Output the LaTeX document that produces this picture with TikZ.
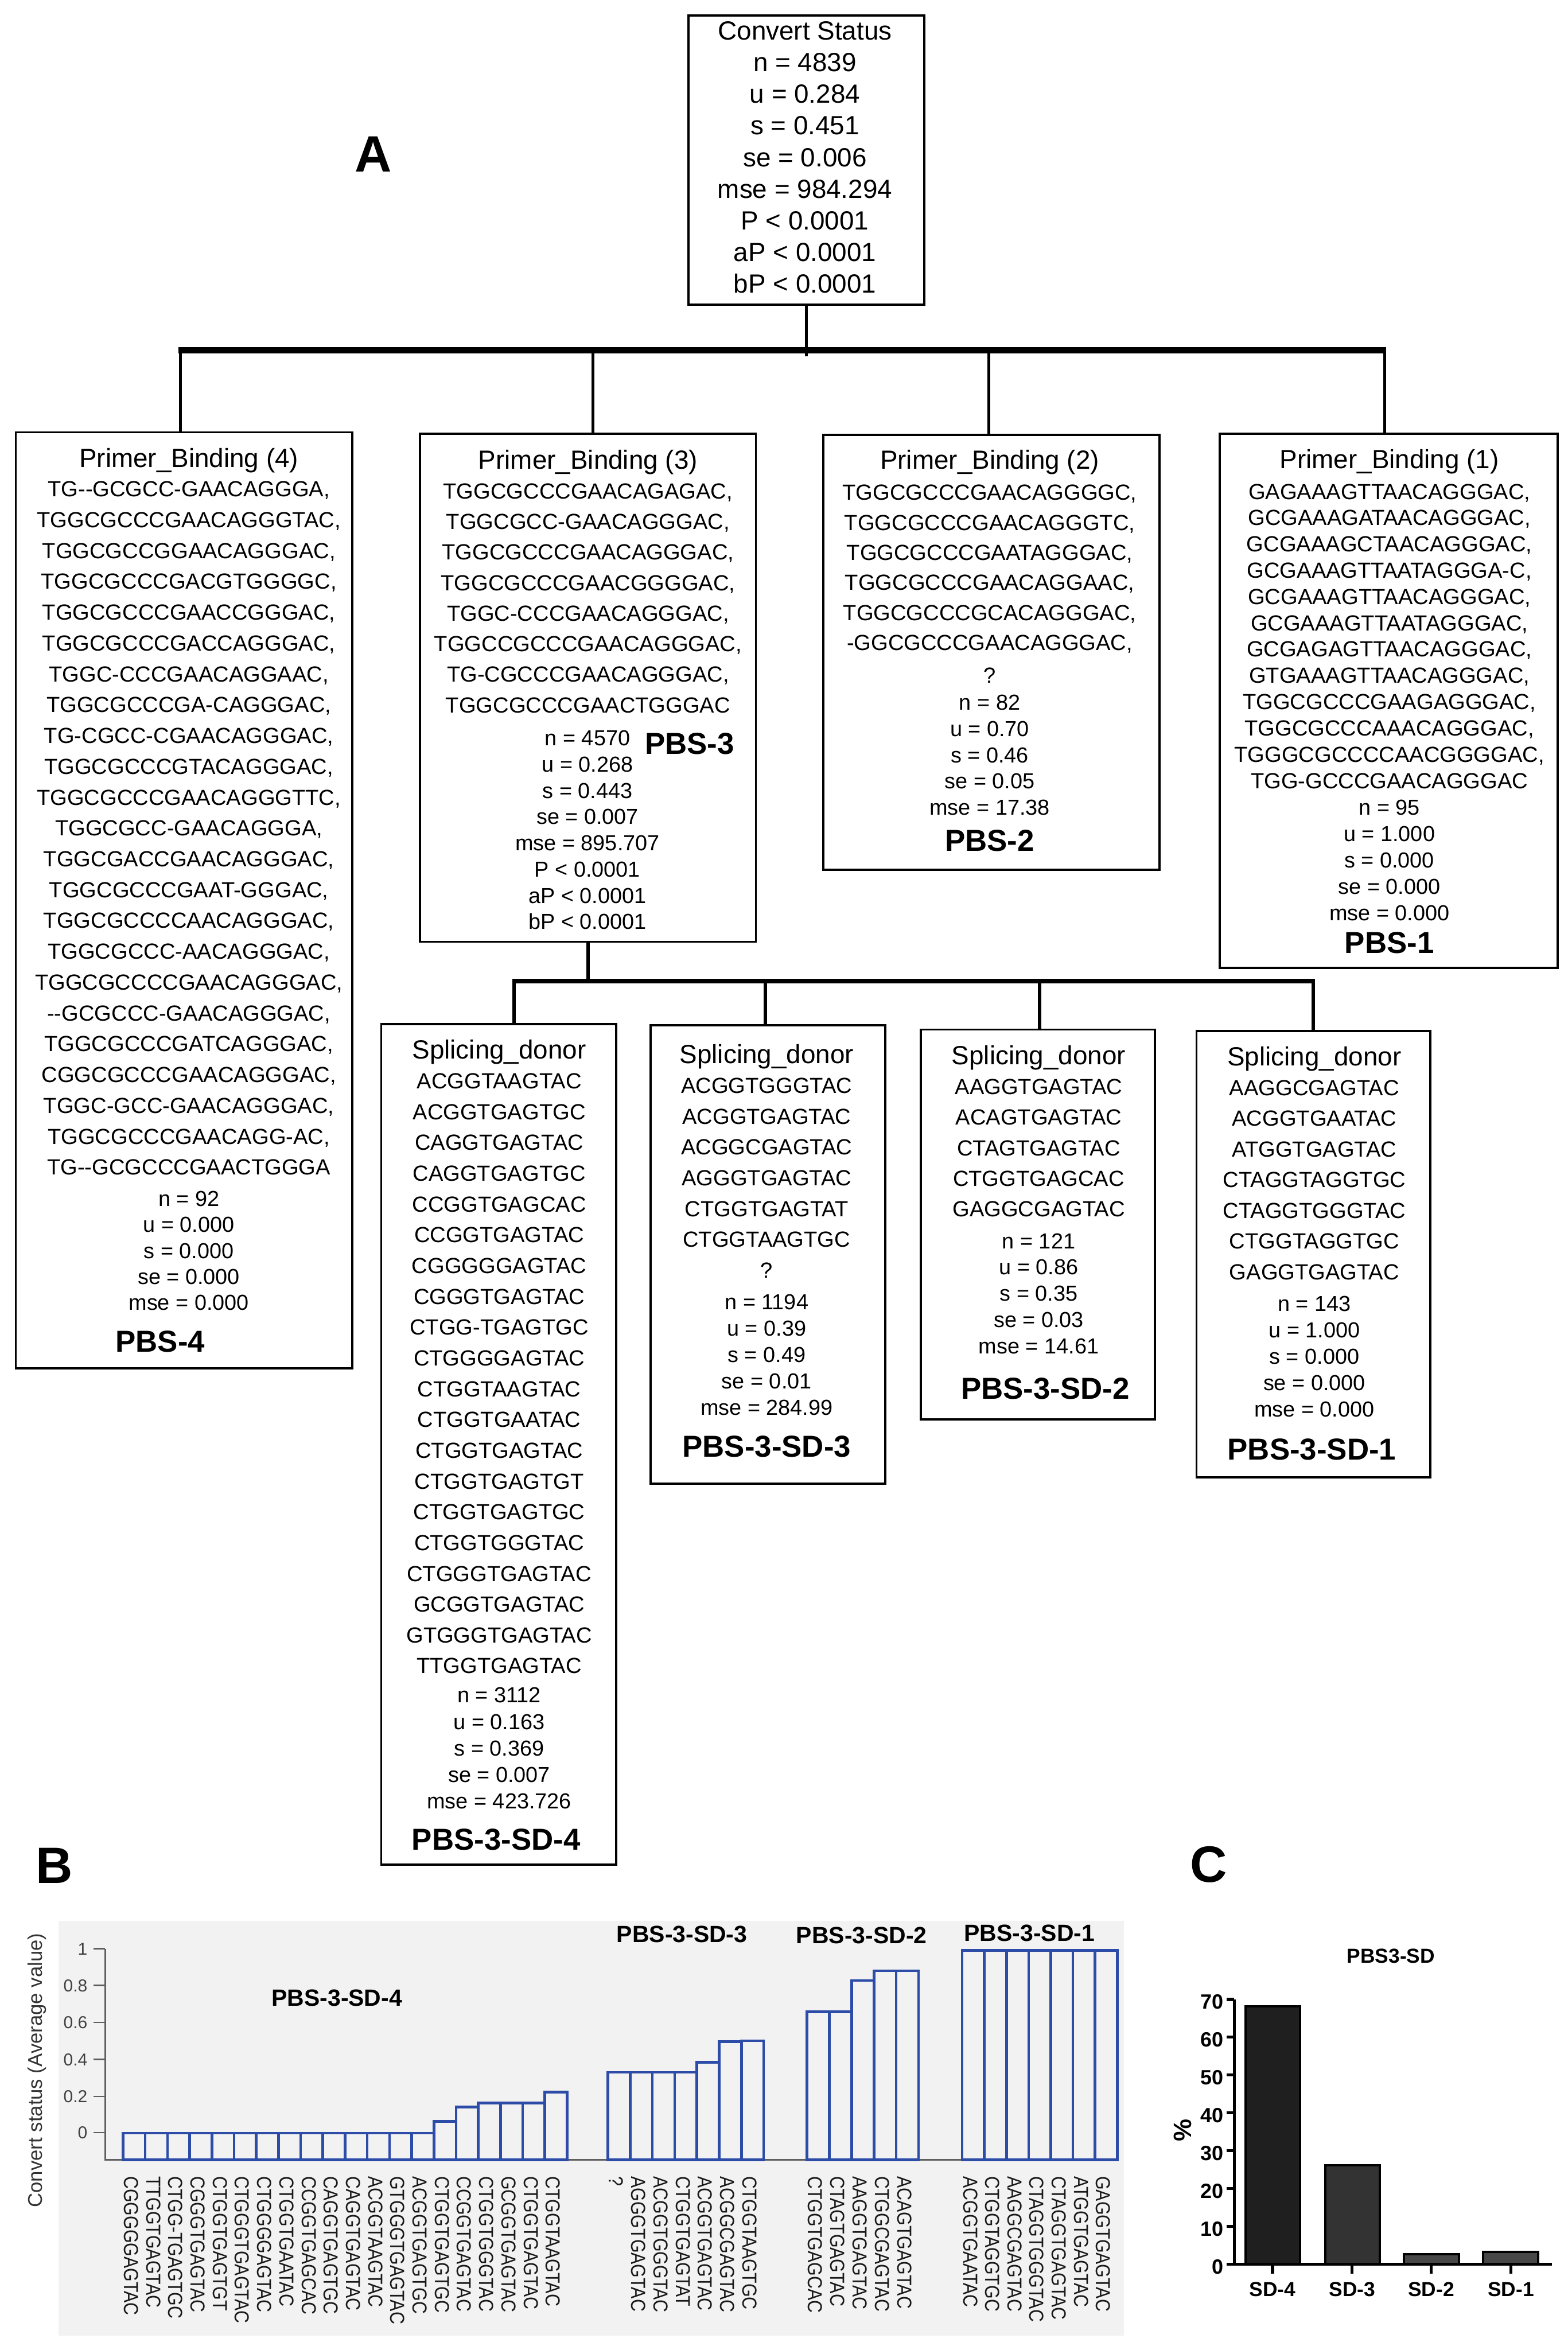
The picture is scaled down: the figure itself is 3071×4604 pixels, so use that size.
\documentclass[tikz,border=0pt]{standalone}
\usepackage{fontspec}
\setmainfont{Liberation Sans}
\newfontfamily\af{Liberation Sans}
\newfontfamily\xf{Liberation Sans}[FakeStretch=0.86]
\usetikzlibrary{fit}
\definecolor{barblue}{RGB}{44,76,168}
\definecolor{chartbg}{RGB}{242,242,242}
\definecolor{axgray}{RGB}{95,95,95}
\begin{document}
\begin{tikzpicture}[x=0.1mm,y=-0.1mm,
  box/.style={draw=black, line width=0.42mm, inner sep=0pt},
  ttl/.style={font=\af\fontsize{14.65}{16}\selectfont, anchor=base, inner sep=0pt},
  sq/.style={font=\af\fontsize{12.2}{14}\selectfont, anchor=base, inner sep=0pt},
  st/.style={font=\af\fontsize{12.1}{14}\selectfont, anchor=base, inner sep=0pt},
  lbl/.style={font=\af\bfseries\fontsize{16.9}{19}\selectfont, anchor=base, inner sep=0pt},
  big/.style={font=\af\bfseries\fontsize{28.5}{30}\selectfont, inner sep=0pt},
  vline/.style={draw=black, line width=0.55mm},
  vline2/.style={draw=black, line width=0.65mm},
  hbar1/.style={draw=black, line width=1.2mm},
  hbar2/.style={draw=black, line width=0.85mm},
  barline/.style={draw=barblue, line width=0.52mm},
  xl/.style={font=\xf\fontsize{11.3}{12}\selectfont, rotate=-90, anchor=west, inner sep=0pt, text=black!90},
  gl/.style={font=\af\bfseries\fontsize{13.1}{15}\selectfont, inner sep=0pt},
  tl/.style={font=\af\fontsize{9.6}{11}\selectfont, text=black!75, anchor=east, inner sep=0pt},
  cl/.style={font=\af\bfseries\fontsize{11.5}{13}\selectfont, inner sep=0pt},
  caxis/.style={draw=black, line width=0.6mm}
]
\fill[white] (0,0) rectangle (3071,4604);
\useasboundingbox (0,0) rectangle (3071,4604);

% ---------------- Panel A ----------------
\node[big] (labA) at (731,302) {A};

% top box
\node[box, fit={(1349,30) (1811,597)}] (top) {};
\foreach \t [count=\k from 0] in {Convert Status, n = 4839, u = 0.284, s = 0.451, se = 0.006, mse = 984.294, P < 0.0001, aP < 0.0001, bP < 0.0001}
  \node[ttl] (top\k) at (1577,{78+62*\k}) {\t};

% level-1 boxes
\node[box, fit={(31,847) (690,2681)}] (pbs4) {};
\node[box, fit={(823,850) (1481,1845)}] (pbs3) {};
\node[box, fit={(1613,852) (2272,1704)}] (pbs2) {};
\node[box, fit={(2390,850) (3052,1896)}] (pbs1) {};

% level-1 connectors
\coordinate (j1) at (1580,698);
\coordinate (b1a) at (353,686);
\coordinate (b1b) at (1162,686);
\coordinate (b1c) at (1937,686);
\coordinate (b1d) at (2713,686);
\draw[vline] (top.south) -- (j1);
\draw[hbar1] ([xshift=-0.3mm]b1a) -- ([xshift=0.3mm]b1d);
\draw[vline] (b1a) -- (b1a |- pbs4.north);
\draw[vline] (b1b) -- (b1b |- pbs3.north);
\draw[vline] (b1c) -- (b1c |- pbs2.north);
\draw[vline] (b1d) -- (b1d |- pbs1.north);

% PBS-4 contents
\node[ttl] (p4t) at (370,916) {Primer\_Binding (4)};
\foreach \t [count=\i from 0] in {{TG--GCGCC-GAACAGGGA,},{TGGCGCCCGAACAGGGTAC,},{TGGCGCCGGAACAGGGAC,},{TGGCGCCCGACGTGGGGC,},{TGGCGCCCGAACCGGGAC,},{TGGCGCCCGACCAGGGAC,},{TGGC-CCCGAACAGGAAC,},{TGGCGCCCGA-CAGGGAC,},{TG-CGCC-CGAACAGGGAC,},{TGGCGCCCGTACAGGGAC,},{TGGCGCCCGAACAGGGTTC,},{TGGCGCC-GAACAGGGA,},{TGGCGACCGAACAGGGAC,},{TGGCGCCCGAAT-GGGAC,},{TGGCGCCCCAACAGGGAC,},{TGGCGCCC-AACAGGGAC,},{TGGCGCCCCGAACAGGGAC,},{--GCGCCC-GAACAGGGAC,},{TGGCGCCCGATCAGGGAC,},{CGGCGCCCGAACAGGGAC,},{TGGC-GCC-GAACAGGGAC,},{TGGCGCCCGAACAGG-AC,},{TG--GCGCCCGAACTGGGA}}
  \node[sq] (p4s\i) at (370,{973+60.4*\i}) {\t};
\foreach \t [count=\k from 0] in {n = 92, u = 0.000, s = 0.000, se = 0.000, mse = 0.000}
  \node[st] (p4n\k) at (370,{2363+51*\k}) {\t};
\node[lbl] (p4l) at (314,2649) {PBS-4};

% PBS-3 contents
\node[ttl] (p3t) at (1152,919) {Primer\_Binding (3)};
\foreach \t [count=\i from 0] in {{TGGCGCCCGAACAGAGAC,},{TGGCGCC-GAACAGGGAC,},{TGGCGCCCGAACAGGGAC,},{TGGCGCCCGAACGGGGAC,},{TGGC-CCCGAACAGGGAC,},{TGGCCGCCCGAACAGGGAC,},{TG-CGCCCGAACAGGGAC,},{TGGCGCCCGAACTGGGAC}}
  \node[sq] (p3s\i) at (1152,{977+59.9*\i}) {\t};
\foreach \t [count=\k from 0] in {n = 4570, u = 0.268, s = 0.443, se = 0.007, mse = 895.707, P < 0.0001, aP < 0.0001, bP < 0.0001}
  \node[st] (p3n\k) at (1151,{1461+51.4*\k}) {\t};
\node[lbl] (p3l) at (1351,1478) {PBS-3};

% PBS-2 contents
\node[ttl] (p2t) at (1939,919) {Primer\_Binding (2)};
\foreach \t [count=\i from 0] in {{TGGCGCCCGAACAGGGGC,},{TGGCGCCCGAACAGGGTC,},{TGGCGCCCGAATAGGGAC,},{TGGCGCCCGAACAGGAAC,},{TGGCGCCCGCACAGGGAC,},{-GGCGCCCGAACAGGGAC,}}
  \node[sq] (p2s\i) at (1939,{980+58.8*\i}) {\t};
\node[sq] (p2q) at (1939,1338) {?};
\foreach \t [count=\k from 0] in {n = 82, u = 0.70, s = 0.46, se = 0.05, mse = 17.38}
  \node[st] (p2n\k) at (1939,{1391+51.5*\k}) {\t};
\node[lbl] (p2l) at (1939,1667) {PBS-2};

% PBS-1 contents
\node[ttl] (p1t) at (2722,918) {Primer\_Binding (1)};
\foreach \t [count=\i from 0] in {{GAGAAAGTTAACAGGGAC,},{GCGAAAGATAACAGGGAC,},{GCGAAAGCTAACAGGGAC,},{GCGAAAGTTAATAGGGA-C,},{GCGAAAGTTAACAGGGAC,},{GCGAAAGTTAATAGGGAC,},{GCGAGAGTTAACAGGGAC,},{GTGAAAGTTAACAGGGAC,},{TGGCGCCCGAAGAGGGAC,},{TGGCGCCCAAACAGGGAC,},{TGGGCGCCCCAACGGGGAC,},{TGG-GCCCGAACAGGGAC}}
  \node[sq] (p1s\i) at (2722,{978+51.5*\i}) {\t};
\foreach \t [count=\k from 0] in {n = 95, u = 1.000, s = 0.000, se = 0.000, mse = 0.000}
  \node[st] (p1n\k) at (2722,{1597+51.7*\k}) {\t};
\node[lbl] (p1l) at (2722,1868) {PBS-1};

% level-2 boxes
\node[box, fit={(747,2006) (1207,3653)}] (sd4) {};
\node[box, fit={(1275,2009) (1734,2907)}] (sd3) {};
\node[box, fit={(1804,2017) (2263,2781)}] (sd2) {};
\node[box, fit={(2344,2020) (2802,2894)}] (sd1) {};

% level-2 connectors
\coordinate (b2a) at (1007,1922);
\coordinate (b2b) at (1499,1922);
\coordinate (b2c) at (2037,1922);
\coordinate (b2d) at (2573,1922);
\draw[vline2] (pbs3.south) -- (pbs3.south |- b2a);
\draw[hbar2] ([xshift=-0.35mm]b2a) -- ([xshift=0.35mm]b2d);
\draw[vline2] (b2a) -- (b2a |- sd4.north);
\draw[vline2] (b2b) -- (b2b |- sd3.north);
\draw[vline2] (b2c) -- (b2c |- sd2.north);
\draw[vline2] (b2d) -- (b2d |- sd1.north);

% SD-4 contents
\node[ttl] (s4t) at (978,2074) {Splicing\_donor};
\foreach \t [count=\i from 0] in {ACGGTAAGTAC,ACGGTGAGTGC,CAGGTGAGTAC,CAGGTGAGTGC,CCGGTGAGCAC,CCGGTGAGTAC,CGGGGGAGTAC,CGGGTGAGTAC,CTGG-TGAGTGC,CTGGGGAGTAC,CTGGTAAGTAC,CTGGTGAATAC,CTGGTGAGTAC,CTGGTGAGTGT,CTGGTGAGTGC,CTGGTGGGTAC,CTGGGTGAGTAC,GCGGTGAGTAC,GTGGGTGAGTAC,TTGGTGAGTAC}
  \node[sq] (s4s\i) at (978,{2133+60.3*\i}) {\t};
\foreach \t [count=\k from 0] in {n = 3112, u = 0.163, s = 0.369, se = 0.007, mse = 423.726}
  \node[st] (s4n\k) at (978,{3336+52*\k}) {\t};
\node[lbl] (s4l) at (972,3624) {PBS-3-SD-4};

% SD-3 contents
\node[ttl] (s3t) at (1502,2083) {Splicing\_donor};
\foreach \t [count=\i from 0] in {ACGGTGGGTAC,ACGGTGAGTAC,ACGGCGAGTAC,AGGGTGAGTAC,CTGGTGAGTAT,CTGGTAAGTGC,?}
  \node[sq] (s3s\i) at (1502,{2142+60.3*\i}) {\t};
\foreach \t [count=\k from 0] in {n = 1194, u = 0.39, s = 0.49, se = 0.01, mse = 284.99}
  \node[st] (s3n\k) at (1502,{2565+51.8*\k}) {\t};
\node[lbl] (s3l) at (1502,2854) {PBS-3-SD-3};

% SD-2 contents
\node[ttl] (s2t) at (2035,2086) {Splicing\_donor};
\foreach \t [count=\i from 0] in {AAGGTGAGTAC,ACAGTGAGTAC,CTAGTGAGTAC,CTGGTGAGCAC,GAGGCGAGTAC}
  \node[sq] (s2s\i) at (2035,{2144+60*\i}) {\t};
\foreach \t [count=\k from 0] in {n = 121, u = 0.86, s = 0.35, se = 0.03, mse = 14.61}
  \node[st] (s2n\k) at (2035,{2446+51.5*\k}) {\t};
\node[lbl] (s2l) at (2048,2741) {PBS-3-SD-2};

% SD-1 contents
\node[ttl] (s1t) at (2575,2088) {Splicing\_donor};
\foreach \t [count=\i from 0] in {AAGGCGAGTAC,ACGGTGAATAC,ATGGTGAGTAC,CTAGGTAGGTGC,CTAGGTGGGTAC,CTGGTAGGTGC,GAGGTGAGTAC}
  \node[sq] (s1s\i) at (2575,{2146+60.1*\i}) {\t};
\foreach \t [count=\k from 0] in {n = 143, u = 1.000, s = 0.000, se = 0.000, mse = 0.000}
  \node[st] (s1n\k) at (2575,{2569+51.7*\k}) {\t};
\node[lbl] (s1l) at (2570,2860) {PBS-3-SD-1};

% ---------------- Panel B ----------------
\node[big] (labB) at (106,3655) {B};
\fill[chartbg] (115,3763) rectangle (2202,4576);
\draw[draw=axgray, line width=0.3mm] (206,3818) -- (206,4231) -- (2191,4231);
\foreach \y/\t [count=\k from 0] in {3818/1, 3890/0.8, 3962/0.6, 4035/0.4, 4107/0.2, 4178/0}{
  \draw[draw=axgray, line width=0.3mm] (183,\y) -- (206,\y);
  \node[tl] (yt\k) at (172,\y) {\t};
}
\node[font=\af\fontsize{11.1}{13}\selectfont, rotate=90, text=black!80, inner sep=0pt] (ytitle) at (73,4056) {Convert status (Average value)};

\foreach \h/\t [count=\i from 0] in {4179/CGGGGGAGTAC,4179/TTGGTGAGTAC,4179/CTGG-TGAGTGC,4179/CGGGTGAGTAC,4179/CTGGTGAGTGT,4179/CTGGGTGAGTAC,4179/CTGGGGAGTAC,4179/CTGGTGAATAC,4179/CCGGTGAGCAC,4179/CAGGTGAGTGC,4179/CAGGTGAGTAC,4179/ACGGTAAGTAC,4179/GTGGGTGAGTAC,4179/ACGGTGAGTGC,4156/CTGGTGAGTGC,4128/CCGGTGAGTAC,4120/CTGGTGGGTAC,4120/GCGGTGAGTAC,4120/CTGGTGAGTAC,4099/CTGGTAAGTAC}{
  \draw[barline] ({241+43.5*\i},4231) rectangle ({241+43.5*(\i+1)},\h);
  \node[xl] (xa\i) at ({241+43.5*\i+16},4263) {\t};
}
\foreach \h/\t [count=\i from 0] in {4060/?,4060/AGGGTGAGTAC,4060/ACGGTGGGTAC,4060/CTGGTGAGTAT,4040/ACGGTGAGTAC,4000/ACGGCGAGTAC,3998/CTGGTAAGTGC}{
  \draw[barline] ({1191+43.6*\i},4231) rectangle ({1191+43.6*(\i+1)},\h);
  \node[xl] (xb\i) at ({1191+43.6*\i+16},4263) {\t};
}
\foreach \h/\t [count=\i from 0] in {3941/CTGGTGAGCAC,3941/CTAGTGAGTAC,3880/AAGGTGAGTAC,3861/CTGGCGAGTAC,3861/ACAGTGAGTAC}{
  \draw[barline] ({1581+43.7*\i},4231) rectangle ({1581+43.7*(\i+1)},\h);
  \node[xl] (xc\i) at ({1581+43.7*\i+16},4263) {\t};
}
\foreach \h/\t [count=\i from 0] in {3821/ACGGTGAATAC,3821/CTGGTAGGTGC,3821/AAGGCGAGTAC,3821/CTAGGTGGGTAC,3821/CTAGGTGAGTAC,3821/ATGGTGAGTAC,3821/GAGGTGAGTAC}{
  \draw[barline] ({1885+43.4*\i},4231) rectangle ({1885+43.4*(\i+1)},\h);
  \node[xl] (xd\i) at ({1885+43.4*\i+16},4263) {\t};
}
\node[gl] (g4) at (660,3914) {PBS-3-SD-4};
\node[gl] (g3) at (1336,3790) {PBS-3-SD-3};
\node[gl] (g2) at (1688,3792) {PBS-3-SD-2};
\node[gl] (g1) at (2017,3787) {PBS-3-SD-1};

% ---------------- Panel C ----------------
\node[big] (labC) at (2368,3653) {C};
\node[font=\af\bfseries\fontsize{11.3}{13}\selectfont, inner sep=0pt] (ctitle) at (2725,3832) {PBS3-SD};
\node[font=\af\bfseries\fontsize{14}{16}\selectfont, rotate=90, inner sep=0pt] (cpct) at (2317,4173) {\%};
\draw[fill=black!88, draw=black, line width=0.45mm] (2440,4436) rectangle (2547,3931);
\draw[fill=black!80, draw=black, line width=0.45mm] (2596,4436) rectangle (2703,4242);
\draw[fill=black!72, draw=black, line width=0.45mm] (2750,4436) rectangle (2858,4416);
\draw[fill=black!72, draw=black, line width=0.45mm] (2906,4436) rectangle (3014,4412);
\draw[caxis] (2418,3917) -- (2418,4436);
\draw[caxis] (2403,4436) -- (3040,4436);
\foreach \v [count=\k from 0] in {0,10,20,30,40,50,60,70}{
  \draw[caxis] (2403,{4436-7.414*\v}) -- (2418,{4436-7.414*\v});
  \node[cl, anchor=east] (cy\k) at (2398,{4441-7.414*\v}) {\v};
}
\foreach \x/\t [count=\k from 0] in {2493/SD-4,2649/SD-3,2804/SD-2,2960/SD-1}{
  \draw[caxis] (\x,4436) -- (\x,4454);
  \node[cl, anchor=north, font=\af\bfseries\fontsize{11.3}{13}\selectfont] (cx\k) at (\x,4470) {\t};
}
\end{tikzpicture}
\end{document}
